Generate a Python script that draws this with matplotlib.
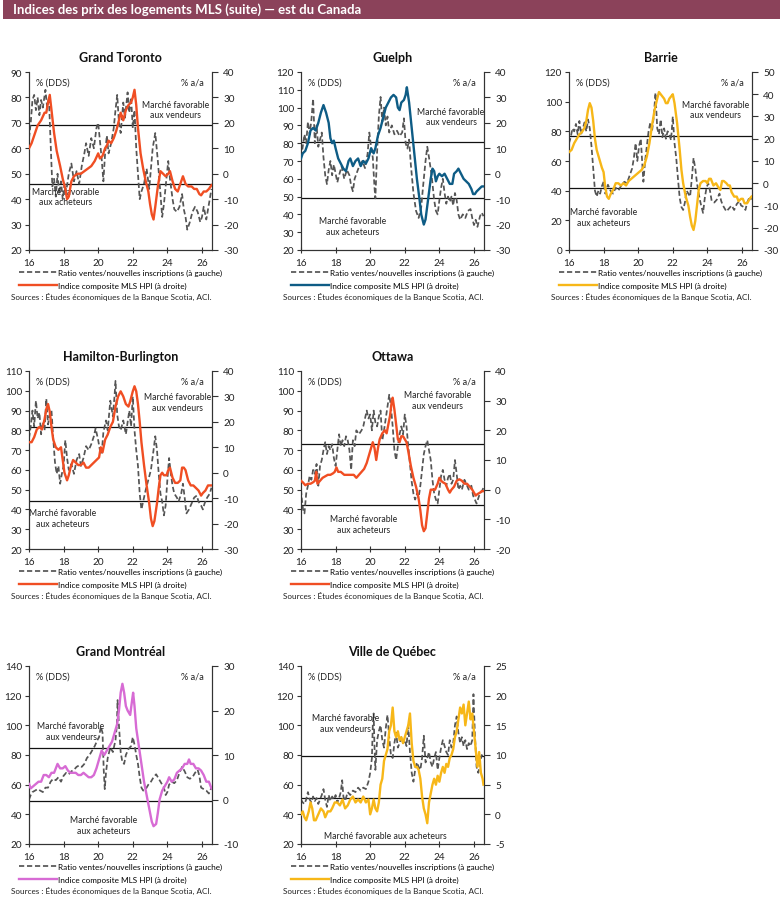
import matplotlib
matplotlib.use("Agg")
import matplotlib.pyplot as plt
import numpy as np
from matplotlib.lines import Line2D

plt.rcParams['font.family'] = ['Lato', 'DejaVu Sans']

# Ratio ventes/nouvelles inscriptions (axe gauche) et MLS HPI a/a (axe droit)
toronto_ratio = [(2016.0, 64), (2016.1, 70), (2016.2, 79), (2016.3, 81), (2016.4, 75), (2016.5, 80), (2016.6, 73),
                 (2016.7, 79), (2016.8, 76), (2016.95, 83), (2017.05, 76), (2017.15, 80), (2017.25, 62), (2017.35, 45),
                 (2017.45, 48), (2017.55, 41), (2017.65, 50), (2017.75, 42), (2017.85, 47), (2017.95, 40), (2018.05, 46),
                 (2018.15, 43), (2018.3, 50), (2018.45, 54), (2018.6, 47), (2018.75, 51), (2018.9, 46), (2019.05, 53),
                 (2019.2, 58), (2019.3, 62), (2019.45, 57), (2019.6, 64), (2019.75, 60), (2019.9, 68), (2020.0, 70),
                 (2020.1, 63), (2020.2, 56), (2020.3, 47), (2020.4, 58), (2020.5, 65), (2020.6, 58), (2020.75, 62),
                 (2020.9, 68), (2021.0, 75), (2021.1, 81), (2021.2, 70), (2021.3, 66), (2021.45, 78), (2021.55, 72),
                 (2021.7, 82), (2021.8, 74), (2021.9, 80), (2022.0, 68), (2022.1, 75), (2022.2, 60), (2022.3, 50),
                 (2022.4, 40), (2022.5, 43), (2022.65, 46), (2022.8, 52), (2022.95, 44), (2023.05, 52), (2023.15, 60),
                 (2023.3, 66), (2023.45, 55), (2023.6, 42), (2023.7, 33), (2023.8, 38), (2023.9, 45), (2024.05, 55),
                 (2024.15, 48), (2024.3, 40), (2024.4, 36), (2024.55, 35), (2024.7, 37), (2024.85, 42), (2024.95, 36),
                 (2025.05, 33), (2025.15, 28), (2025.3, 31), (2025.45, 35), (2025.6, 37), (2025.75, 35), (2025.9, 31),
                 (2026.0, 33), (2026.1, 37), (2026.25, 32), (2026.4, 38), (2026.55, 44)]
toronto_hpi = [(2016.0, 10), (2016.15, 12), (2016.3, 15), (2016.5, 19), (2016.7, 21), (2016.9, 24), (2017.0, 24),
               (2017.1, 28), (2017.2, 31), (2017.3, 25), (2017.45, 16), (2017.6, 9), (2017.8, 3), (2017.95, -2),
               (2018.1, -6), (2018.2, -10), (2018.3, -9), (2018.45, -3), (2018.6, -1), (2018.8, 0), (2019.0, 0),
               (2019.2, 1), (2019.4, 2), (2019.6, 3), (2019.8, 5), (2020.0, 8), (2020.1, 6), (2020.25, 7), (2020.4, 10),
               (2020.5, 11), (2020.6, 13), (2020.75, 12), (2020.9, 14), (2021.05, 17), (2021.2, 21), (2021.3, 24),
               (2021.45, 21), (2021.6, 25), (2021.75, 27), (2021.9, 28), (2022.0, 30), (2022.1, 33), (2022.2, 27),
               (2022.3, 18), (2022.45, 8), (2022.6, 2), (2022.75, -3), (2022.9, -7), (2023.0, -12), (2023.1, -16),
               (2023.2, -18), (2023.3, -13), (2023.45, -5), (2023.6, 1), (2023.75, 0), (2023.9, -1), (2024.05, 0),
               (2024.15, 1), (2024.3, -3), (2024.45, -6), (2024.6, -7), (2024.75, -4), (2024.9, -1), (2025.05, -4),
               (2025.2, -5), (2025.4, -5), (2025.55, -6), (2025.7, -6), (2025.85, -8), (2025.95, -8.5), (2026.1, -7),
               (2026.25, -7), (2026.4, -6), (2026.55, -4.5)]

guelph_ratio = [(2016.0, 72), (2016.1, 78), (2016.2, 85), (2016.3, 80), (2016.4, 92), (2016.5, 85), (2016.6, 93),
                (2016.7, 105), (2016.8, 80), (2016.9, 90), (2017.0, 78), (2017.1, 82), (2017.2, 86), (2017.3, 72),
                (2017.4, 62), (2017.5, 57), (2017.6, 65), (2017.7, 70), (2017.8, 62), (2017.9, 68), (2018.0, 63),
                (2018.1, 58), (2018.2, 62), (2018.35, 67), (2018.5, 60), (2018.65, 65), (2018.8, 62), (2018.9, 56),
                (2019.0, 53), (2019.1, 60), (2019.25, 64), (2019.4, 68), (2019.55, 70), (2019.7, 66), (2019.85, 74),
                (2019.95, 86), (2020.05, 78), (2020.15, 72), (2020.25, 55), (2020.3, 49), (2020.4, 75), (2020.5, 95),
                (2020.6, 106), (2020.7, 92), (2020.8, 100), (2020.9, 90), (2021.0, 95), (2021.1, 86), (2021.25, 90),
                (2021.4, 85), (2021.55, 87), (2021.7, 84), (2021.85, 86), (2021.95, 94), (2022.05, 80), (2022.15, 77),
                (2022.25, 82), (2022.35, 68), (2022.5, 52), (2022.65, 42), (2022.8, 38), (2022.95, 44), (2023.05, 55),
                (2023.2, 70), (2023.3, 78), (2023.4, 72), (2023.55, 62), (2023.7, 48), (2023.8, 42), (2023.9, 40),
                (2024.0, 48), (2024.1, 55), (2024.2, 60), (2024.3, 52), (2024.4, 46), (2024.5, 50), (2024.6, 47),
                (2024.7, 50), (2024.8, 45), (2024.9, 52), (2025.0, 48), (2025.1, 40), (2025.2, 37), (2025.35, 40),
                (2025.5, 38), (2025.65, 42), (2025.8, 43), (2025.9, 38), (2026.0, 34), (2026.1, 37), (2026.2, 33),
                (2026.35, 39), (2026.45, 41), (2026.55, 39)]
guelph_hpi = [(2016.0, 6), (2016.1, 8), (2016.25, 9), (2016.4, 12), (2016.55, 17), (2016.7, 18), (2016.85, 17),
              (2017.0, 20), (2017.15, 24), (2017.3, 27), (2017.45, 24), (2017.6, 20), (2017.7, 14), (2017.8, 12),
              (2017.9, 13), (2018.0, 10), (2018.15, 6), (2018.3, 4), (2018.45, 2), (2018.6, 1), (2018.75, 5),
              (2018.85, 6), (2019.0, 3), (2019.15, 5), (2019.3, 6), (2019.45, 3), (2019.6, 5), (2019.75, 4),
              (2019.9, 6), (2020.05, 10), (2020.2, 8), (2020.3, 10), (2020.45, 15), (2020.6, 18), (2020.75, 22),
              (2020.9, 26), (2021.05, 28), (2021.2, 30), (2021.35, 31), (2021.5, 30), (2021.6, 26), (2021.7, 25),
              (2021.8, 28), (2021.95, 29), (2022.05, 31), (2022.12, 34), (2022.25, 28), (2022.4, 18), (2022.55, 8),
              (2022.7, -2), (2022.85, -10), (2022.95, -16), (2023.1, -20), (2023.2, -18), (2023.35, -10), (2023.5, -2),
              (2023.6, 2), (2023.7, 1), (2023.8, -3), (2023.9, -1), (2024.0, 0), (2024.15, -1), (2024.3, 0),
              (2024.45, -2), (2024.6, -4), (2024.75, -4), (2024.85, 0), (2025.0, 1), (2025.1, 2), (2025.25, 0),
              (2025.4, -2), (2025.55, -3), (2025.7, -4), (2025.85, -6), (2025.95, -8), (2026.05, -8), (2026.15, -7),
              (2026.3, -6), (2026.45, -5), (2026.55, -5)]

barrie_ratio = [(2016.0, 72), (2016.1, 76), (2016.2, 82), (2016.3, 80), (2016.4, 85), (2016.5, 78), (2016.6, 87),
                (2016.7, 78), (2016.8, 82), (2016.9, 86), (2017.0, 80), (2017.1, 88), (2017.2, 82), (2017.3, 70),
                (2017.4, 55), (2017.5, 40), (2017.6, 36), (2017.7, 40), (2017.8, 38), (2017.9, 43), (2018.0, 46),
                (2018.1, 38), (2018.25, 44), (2018.4, 40), (2018.55, 38), (2018.7, 42), (2018.85, 40), (2019.0, 43),
                (2019.2, 46), (2019.35, 45), (2019.5, 50), (2019.65, 55), (2019.75, 62), (2019.85, 72), (2019.95, 60),
                (2020.05, 70), (2020.15, 75), (2020.3, 46), (2020.4, 60), (2020.5, 70), (2020.6, 80), (2020.7, 86),
                (2020.8, 80), (2020.9, 90), (2021.0, 106), (2021.1, 82), (2021.2, 78), (2021.3, 88), (2021.4, 76),
                (2021.5, 82), (2021.6, 75), (2021.7, 80), (2021.8, 78), (2021.9, 74), (2022.0, 90), (2022.1, 72),
                (2022.2, 62), (2022.3, 48), (2022.4, 35), (2022.5, 29), (2022.6, 27), (2022.7, 32), (2022.8, 40),
                (2022.9, 38), (2023.0, 36), (2023.1, 48), (2023.2, 62), (2023.3, 55), (2023.4, 45), (2023.5, 38),
                (2023.6, 32), (2023.75, 25), (2023.85, 35), (2023.95, 42), (2024.05, 45), (2024.15, 40), (2024.25, 33),
                (2024.4, 32), (2024.55, 34), (2024.7, 38), (2024.8, 33), (2024.9, 30), (2025.0, 28), (2025.1, 26),
                (2025.25, 28), (2025.4, 30), (2025.55, 27), (2025.7, 31), (2025.85, 33), (2025.95, 30), (2026.1, 29),
                (2026.2, 27), (2026.3, 32), (2026.45, 36), (2026.55, 34)]
barrie_hpi = [(2016.0, 14), (2016.15, 15), (2016.3, 18), (2016.45, 20), (2016.6, 22), (2016.75, 23), (2016.9, 25),
              (2017.0, 28), (2017.1, 33), (2017.2, 36), (2017.3, 34), (2017.4, 28), (2017.5, 20), (2017.6, 15),
              (2017.75, 11), (2017.9, 7), (2018.0, 5), (2018.1, -2), (2018.2, -6), (2018.3, -7), (2018.4, -5),
              (2018.55, -3), (2018.7, 0), (2018.85, 0), (2019.0, -1), (2019.15, 0), (2019.3, -1), (2019.45, 1),
              (2019.6, 2), (2019.75, 3), (2019.9, 4), (2020.05, 5), (2020.2, 6), (2020.35, 8), (2020.5, 12),
              (2020.65, 18), (2020.8, 26), (2020.95, 33), (2021.1, 38), (2021.2, 41), (2021.3, 40), (2021.4, 39),
              (2021.5, 38), (2021.6, 36), (2021.7, 36), (2021.8, 38), (2021.9, 39), (2022.0, 40), (2022.1, 36),
              (2022.25, 27), (2022.4, 15), (2022.5, 6), (2022.6, 0), (2022.75, -6), (2022.9, -10), (2023.0, -15),
              (2023.1, -19), (2023.2, -21), (2023.3, -17), (2023.4, -10), (2023.5, -3), (2023.6, 0), (2023.75, 1),
              (2023.9, 1), (2024.0, 0), (2024.1, 2), (2024.2, 2), (2024.35, -1), (2024.5, 0), (2024.65, -2),
              (2024.75, -3), (2024.85, 1), (2024.95, 1), (2025.1, 0), (2025.2, -1), (2025.3, -1), (2025.4, -4),
              (2025.55, -6), (2025.7, -6), (2025.8, -8), (2025.95, -7), (2026.05, -7), (2026.15, -9), (2026.3, -9),
              (2026.45, -7), (2026.55, -6)]

hamilton_ratio = [(2016.0, 76), (2016.1, 82), (2016.2, 90), (2016.3, 82), (2016.4, 95), (2016.5, 86), (2016.6, 89),
                  (2016.7, 78), (2016.8, 84), (2016.9, 80), (2017.0, 96), (2017.1, 83), (2017.2, 88), (2017.3, 90),
                  (2017.4, 76), (2017.5, 64), (2017.6, 58), (2017.7, 62), (2017.8, 53), (2017.9, 58), (2018.0, 62),
                  (2018.1, 75), (2018.2, 66), (2018.3, 60), (2018.45, 63), (2018.6, 58), (2018.75, 65), (2018.9, 68),
                  (2019.0, 62), (2019.15, 66), (2019.3, 72), (2019.45, 70), (2019.6, 73), (2019.75, 77), (2019.85, 81),
                  (2020.0, 75), (2020.1, 70), (2020.2, 68), (2020.3, 79), (2020.45, 85), (2020.55, 80), (2020.7, 95),
                  (2020.85, 87), (2020.95, 98), (2021.0, 105), (2021.1, 88), (2021.2, 82), (2021.3, 80), (2021.45, 85),
                  (2021.6, 78), (2021.7, 84), (2021.8, 90), (2021.9, 82), (2022.0, 97), (2022.1, 80), (2022.2, 70),
                  (2022.3, 62), (2022.4, 48), (2022.5, 40), (2022.6, 44), (2022.75, 50), (2022.9, 55), (2023.05, 60),
                  (2023.2, 70), (2023.3, 77), (2023.4, 70), (2023.5, 58), (2023.6, 48), (2023.7, 44), (2023.8, 37),
                  (2023.9, 42), (2024.0, 55), (2024.1, 66), (2024.2, 58), (2024.3, 52), (2024.4, 48), (2024.55, 46),
                  (2024.65, 44), (2024.8, 48), (2024.9, 53), (2025.0, 46), (2025.1, 38), (2025.25, 40), (2025.4, 43),
                  (2025.55, 46), (2025.7, 47), (2025.8, 44), (2025.95, 42), (2026.05, 40), (2026.15, 43), (2026.3, 46),
                  (2026.45, 48), (2026.55, 51)]
hamilton_hpi = [(2016.0, 12), (2016.15, 12), (2016.3, 14), (2016.45, 17), (2016.6, 18), (2016.75, 17), (2016.9, 21),
                (2017.0, 25), (2017.1, 27), (2017.2, 24), (2017.3, 18), (2017.4, 13), (2017.55, 10), (2017.7, 9),
                (2017.85, 10), (2017.95, 5), (2018.05, 0), (2018.2, -3), (2018.3, -1), (2018.4, 2), (2018.55, 5),
                (2018.7, 4), (2018.85, 3), (2019.0, 3), (2019.15, 4), (2019.3, 2), (2019.45, 2), (2019.6, 3),
                (2019.75, 4), (2019.9, 5), (2020.05, 6), (2020.15, 10), (2020.25, 8), (2020.4, 13), (2020.55, 15),
                (2020.7, 18), (2020.85, 20), (2021.0, 26), (2021.15, 30), (2021.3, 32), (2021.45, 30), (2021.6, 27),
                (2021.75, 26), (2021.85, 28), (2022.0, 32), (2022.1, 34), (2022.2, 32), (2022.3, 27), (2022.4, 20),
                (2022.5, 12), (2022.65, 3), (2022.8, -5), (2022.95, -12), (2023.05, -18), (2023.15, -21), (2023.25, -19),
                (2023.4, -12), (2023.5, -6), (2023.6, -1), (2023.7, 0), (2023.8, -1), (2023.95, -1), (2024.05, 1),
                (2024.15, 2), (2024.3, -2), (2024.45, -4), (2024.6, -4), (2024.75, -3), (2024.85, 2), (2024.95, 2),
                (2025.05, 1), (2025.2, -3), (2025.35, -5), (2025.5, -5), (2025.65, -6), (2025.8, -7), (2025.95, -9),
                (2026.05, -8), (2026.2, -7), (2026.35, -5), (2026.55, -5)]

ottawa_ratio = [(2016.0, 50), (2016.05, 45), (2016.12, 40), (2016.2, 38), (2016.3, 48), (2016.4, 52), (2016.5, 57),
                (2016.6, 55), (2016.7, 60), (2016.8, 58), (2016.9, 63), (2017.0, 52), (2017.1, 62), (2017.2, 65),
                (2017.3, 70), (2017.4, 74), (2017.5, 68), (2017.6, 72), (2017.7, 70), (2017.8, 73), (2017.9, 66),
                (2018.0, 62), (2018.1, 70), (2018.2, 78), (2018.3, 72), (2018.4, 75), (2018.5, 72), (2018.6, 77),
                (2018.7, 75), (2018.8, 70), (2018.9, 60), (2019.0, 75), (2019.1, 72), (2019.2, 80), (2019.35, 78),
                (2019.5, 80), (2019.6, 82), (2019.7, 86), (2019.8, 90), (2019.9, 86), (2020.0, 88), (2020.1, 80),
                (2020.2, 90), (2020.3, 84), (2020.4, 82), (2020.5, 87), (2020.6, 90), (2020.7, 75), (2020.8, 80),
                (2020.9, 86), (2021.0, 92), (2021.1, 98), (2021.2, 92), (2021.3, 82), (2021.4, 70), (2021.5, 65),
                (2021.6, 72), (2021.7, 78), (2021.8, 82), (2021.9, 78), (2022.0, 88), (2022.1, 82), (2022.2, 72),
                (2022.3, 63), (2022.4, 54), (2022.5, 48), (2022.6, 45), (2022.7, 48), (2022.8, 46), (2022.9, 52),
                (2023.0, 60), (2023.1, 68), (2023.2, 72), (2023.3, 75), (2023.4, 70), (2023.5, 65), (2023.6, 55),
                (2023.7, 48), (2023.8, 45), (2023.9, 43), (2024.0, 50), (2024.1, 57), (2024.2, 60), (2024.3, 55),
                (2024.4, 52), (2024.5, 56), (2024.6, 58), (2024.7, 53), (2024.8, 55), (2024.9, 65), (2025.0, 58),
                (2025.1, 50), (2025.2, 52), (2025.3, 50), (2025.45, 55), (2025.6, 52), (2025.7, 50), (2025.85, 52),
                (2025.95, 47), (2026.05, 45), (2026.15, 43), (2026.3, 47), (2026.45, 49), (2026.55, 51)]
ottawa_hpi = [(2016.0, 3), (2016.1, 2.5), (2016.25, 1.5), (2016.4, 2), (2016.55, 2), (2016.7, 2.5), (2016.8, 3),
              (2016.88, 6), (2016.95, 2), (2017.1, 3), (2017.25, 4), (2017.4, 4.5), (2017.55, 5), (2017.7, 5),
              (2017.85, 5.5), (2017.95, 6), (2018.05, 7.5), (2018.15, 6), (2018.3, 6), (2018.5, 5), (2018.7, 5),
              (2018.9, 5), (2019.05, 5), (2019.2, 4), (2019.35, 5), (2019.5, 6), (2019.65, 7), (2019.8, 9),
              (2019.95, 12), (2020.05, 14), (2020.15, 16), (2020.25, 14), (2020.35, 10), (2020.45, 14), (2020.55, 17),
              (2020.7, 19), (2020.85, 20), (2020.95, 19), (2021.05, 22), (2021.15, 25), (2021.25, 30), (2021.3, 31),
              (2021.4, 27), (2021.5, 22), (2021.6, 17), (2021.7, 16), (2021.8, 18), (2021.9, 18), (2022.0, 17),
              (2022.1, 16), (2022.2, 13), (2022.35, 8), (2022.5, 4), (2022.65, 1), (2022.8, -3), (2022.9, -7),
              (2023.0, -12), (2023.1, -14), (2023.2, -13), (2023.3, -8), (2023.4, -3), (2023.5, 0), (2023.6, 0),
              (2023.75, 0), (2023.9, 2), (2024.0, 4), (2024.1, 3), (2024.2, 2.5), (2024.35, 2), (2024.5, 0),
              (2024.6, -1), (2024.7, 0), (2024.85, 1), (2025.0, 3), (2025.15, 3.5), (2025.3, 3), (2025.45, 2),
              (2025.6, 2), (2025.75, 1), (2025.9, 0), (2026.0, -1), (2026.1, -2), (2026.2, -1.5), (2026.35, -1),
              (2026.45, -0.5), (2026.55, -0.5)]

montreal_ratio = [(2016.0, 50), (2016.1, 53), (2016.2, 55), (2016.35, 56), (2016.5, 57), (2016.65, 56), (2016.8, 55),
                  (2016.95, 58), (2017.1, 58), (2017.25, 62), (2017.4, 64), (2017.55, 63), (2017.7, 65), (2017.85, 62),
                  (2018.0, 66), (2018.15, 68), (2018.3, 67), (2018.45, 69), (2018.6, 70), (2018.75, 72), (2018.9, 73),
                  (2019.05, 72), (2019.2, 74), (2019.35, 78), (2019.5, 80), (2019.65, 83), (2019.8, 86), (2019.95, 90),
                  (2020.05, 92), (2020.15, 99), (2020.25, 95), (2020.32, 70), (2020.38, 57), (2020.45, 68), (2020.55, 78),
                  (2020.7, 85), (2020.85, 82), (2021.0, 90), (2021.08, 100), (2021.12, 117), (2021.2, 100), (2021.3, 82),
                  (2021.4, 75), (2021.5, 74), (2021.6, 80), (2021.75, 84), (2021.9, 86), (2022.0, 92), (2022.1, 87),
                  (2022.2, 80), (2022.3, 74), (2022.4, 65), (2022.5, 58), (2022.6, 56), (2022.75, 57), (2022.9, 60),
                  (2023.05, 62), (2023.2, 65), (2023.35, 67), (2023.5, 64), (2023.65, 61), (2023.8, 58), (2023.9, 53),
                  (2024.0, 55), (2024.1, 60), (2024.25, 62), (2024.4, 61), (2024.55, 63), (2024.7, 68), (2024.85, 72),
                  (2025.0, 69), (2025.15, 65), (2025.3, 64), (2025.45, 65), (2025.6, 68), (2025.75, 70), (2025.85, 66),
                  (2025.95, 58), (2026.1, 57), (2026.25, 56), (2026.4, 54), (2026.55, 58)]
montreal_hpi = [(2016.0, 3.5), (2016.1, 2.5), (2016.25, 3), (2016.4, 3.5), (2016.55, 4), (2016.7, 4), (2016.85, 5.5),
                (2017.0, 5.5), (2017.15, 5), (2017.3, 6), (2017.45, 6), (2017.55, 7), (2017.65, 8), (2017.8, 7),
                (2017.95, 7), (2018.1, 7.5), (2018.25, 6.5), (2018.4, 6), (2018.55, 6), (2018.7, 6), (2018.85, 5.5),
                (2019.0, 5.5), (2019.15, 6), (2019.3, 5.5), (2019.45, 5), (2019.6, 5), (2019.75, 5.5), (2019.9, 7),
                (2020.05, 9), (2020.2, 11), (2020.35, 10), (2020.5, 11), (2020.65, 12), (2020.8, 13), (2020.95, 15),
                (2021.1, 17), (2021.2, 20), (2021.3, 24), (2021.4, 26), (2021.5, 24), (2021.6, 21), (2021.7, 20),
                (2021.85, 19), (2021.95, 22), (2022.02, 24), (2022.1, 21), (2022.2, 16), (2022.35, 12), (2022.5, 8),
                (2022.65, 4), (2022.8, 1), (2022.95, -2), (2023.1, -5), (2023.2, -6), (2023.35, -5.5), (2023.45, -3),
                (2023.55, 0), (2023.7, 2), (2023.85, 3), (2024.0, 4), (2024.1, 5), (2024.25, 4), (2024.4, 4.5),
                (2024.55, 6), (2024.7, 6.5), (2024.85, 7), (2025.0, 8), (2025.15, 8), (2025.25, 9), (2025.35, 8),
                (2025.5, 8), (2025.65, 7), (2025.8, 7), (2025.95, 6.5), (2026.1, 5.5), (2026.25, 4), (2026.4, 4),
                (2026.55, 2.5)]

quebec_ratio = [(2016.0, 50), (2016.1, 48), (2016.2, 47), (2016.3, 50), (2016.4, 55), (2016.5, 50), (2016.6, 48),
                (2016.7, 52), (2016.8, 49), (2016.9, 51), (2017.0, 47), (2017.1, 50), (2017.2, 53), (2017.3, 57),
                (2017.4, 50), (2017.5, 45), (2017.6, 53), (2017.7, 49), (2017.8, 52), (2017.9, 50), (2018.0, 53),
                (2018.1, 48), (2018.2, 51), (2018.3, 55), (2018.38, 63), (2018.45, 52), (2018.55, 49), (2018.7, 55),
                (2018.85, 53), (2019.0, 56), (2019.15, 55), (2019.3, 58), (2019.45, 56), (2019.6, 58), (2019.75, 57),
                (2019.9, 62), (2020.0, 68), (2020.1, 78), (2020.15, 100), (2020.2, 108), (2020.25, 85), (2020.3, 70),
                (2020.4, 90), (2020.5, 96), (2020.6, 100), (2020.7, 90), (2020.8, 85), (2020.9, 98), (2021.0, 107),
                (2021.1, 92), (2021.2, 80), (2021.3, 78), (2021.4, 88), (2021.5, 95), (2021.6, 85), (2021.7, 88),
                (2021.8, 92), (2021.9, 88), (2022.0, 90), (2022.1, 86), (2022.2, 100), (2022.3, 82), (2022.4, 68),
                (2022.5, 62), (2022.6, 70), (2022.7, 75), (2022.8, 72), (2022.9, 70), (2023.0, 78), (2023.1, 93),
                (2023.2, 75), (2023.3, 78), (2023.4, 82), (2023.5, 75), (2023.6, 72), (2023.7, 78), (2023.8, 82),
                (2023.9, 70), (2024.0, 78), (2024.1, 85), (2024.2, 90), (2024.3, 86), (2024.4, 82), (2024.5, 80),
                (2024.6, 90), (2024.7, 85), (2024.8, 88), (2024.9, 100), (2025.0, 106), (2025.1, 95), (2025.2, 88),
                (2025.3, 92), (2025.4, 86), (2025.5, 90), (2025.6, 84), (2025.7, 88), (2025.8, 86), (2025.9, 90),
                (2025.97, 121), (2026.05, 95), (2026.15, 72), (2026.25, 68), (2026.35, 75), (2026.45, 80), (2026.55, 78)]
quebec_hpi = [(2016.0, 0), (2016.1, 0.5), (2016.2, -0.5), (2016.3, -1), (2016.45, 0.5), (2016.55, 2), (2016.65, 1),
              (2016.75, -1), (2016.85, -1), (2017.0, 0), (2017.15, 1), (2017.3, 0.5), (2017.4, -0.5), (2017.55, 0.5),
              (2017.7, 0.5), (2017.8, 1), (2017.95, 2), (2018.1, 2), (2018.25, 1.5), (2018.4, 2.5), (2018.55, 1),
              (2018.7, 1.5), (2018.85, 2.5), (2019.0, 3), (2019.15, 2), (2019.3, 2.5), (2019.45, 2), (2019.6, 3),
              (2019.75, 2), (2019.9, 2.5), (2020.0, 0), (2020.1, 1), (2020.2, 2.5), (2020.3, 1), (2020.4, 0.5),
              (2020.5, 2), (2020.6, 5), (2020.7, 6), (2020.8, 9), (2020.9, 10), (2021.0, 11), (2021.1, 14),
              (2021.2, 15), (2021.3, 18), (2021.4, 14), (2021.5, 13), (2021.6, 14), (2021.7, 12.5), (2021.8, 13),
              (2021.9, 12), (2022.0, 13), (2022.1, 14), (2022.2, 15), (2022.3, 17), (2022.4, 12), (2022.5, 9),
              (2022.6, 8), (2022.7, 8), (2022.8, 7.5), (2022.9, 6), (2023.0, 3), (2023.1, 1), (2023.2, 0),
              (2023.3, -1.5), (2023.4, 2), (2023.5, 3.5), (2023.6, 5), (2023.7, 6), (2023.8, 5), (2023.9, 6.5),
              (2024.0, 5.5), (2024.1, 7), (2024.2, 8), (2024.3, 7), (2024.4, 8.5), (2024.5, 8), (2024.6, 9.5),
              (2024.7, 10), (2024.8, 11), (2024.9, 13), (2025.0, 14), (2025.1, 16), (2025.2, 18), (2025.3, 17),
              (2025.4, 18.5), (2025.5, 15), (2025.6, 17), (2025.7, 19), (2025.8, 16), (2025.9, 17), (2026.0, 14),
              (2026.1, 11), (2026.2, 8), (2026.3, 10.5), (2026.4, 7), (2026.5, 6), (2026.55, 5)]

# seuils marché vendeurs / acheteurs (axe gauche)
seuils = {'toronto': (69, 46), 'guelph': (80.5, 49), 'barrie': (76.8, 41.8), 'hamilton': (81.5, 44.4),
          'ottawa': (72.9, 42.2), 'montreal': (84.9, 49), 'quebec': (79.5, 50.7)}

year_ticks = [2016, 2018, 2020, 2022, 2024, 2026]

ROUGE = '#F04E23'
BLEU = '#0E5C85'
OR = '#F7B718'
ROSE = '#D76BD4'
GRIS = '#555555'
TXT = '#222222'

W, H = 183 / 780, 178 / 904
lefts = [29 / 780, 301 / 780, 569 / 780]
bottoms = [1 - 251 / 904, 1 - 550 / 904, 1 - 845 / 904]

fig = plt.figure(figsize=(7.8, 9.04), dpi=100)

# bandeau titre
fig.add_artist(plt.Rectangle((3 / 780, 1 - 20 / 904), 777 / 780, 20 / 904, transform=fig.transFigure,
                             facecolor='#8B425A', edgecolor='none'))
fig.text(13 / 780, 1 - 10 / 904, 'Indices des prix des logements MLS (suite) — est du Canada',
         color='white', fontsize=9.5, fontweight='bold', va='center', ha='left')


def panel(col, row, title, ratio, hpi, color, lylim, lstep, rylim, rstep, seuil,
          vend_xy, ach_xy, ach_text):
    ax = fig.add_axes([lefts[col], bottoms[row], W, H])
    ax2 = ax.twinx()
    rx, ry = np.array(ratio).T
    hx, hy = np.array(hpi).T

    ax.axhline(seuil[0], color='#111111', lw=0.9, zorder=1)
    ax.axhline(seuil[1], color='#111111', lw=0.9, zorder=1)
    ax.plot(rx, ry, color=GRIS, lw=1.25, linestyle=(0, (3, 1.6)), zorder=2)
    ax2.plot(hx, hy, color=color, lw=1.7, zorder=3)

    ax.set_xlim(2016, 2026.58)
    ax.set_ylim(*lylim)
    ax.set_yticks(np.arange(lylim[0], lylim[1] + 0.1, lstep))
    ax2.set_ylim(*rylim)
    ax2.set_yticks(np.arange(rylim[0], rylim[1] + 0.1, rstep))
    ax2.set_yticklabels([f'{v:g}' for v in np.arange(rylim[0], rylim[1] + 0.1, rstep)])
    ax.set_xticks(year_ticks)
    ax.set_xticklabels([str(y % 100) for y in year_ticks])

    for a in (ax, ax2):
        a.spines['top'].set_visible(False)
        for s in ('left', 'right', 'bottom'):
            a.spines[s].set_linewidth(0.8)
            a.spines[s].set_color('#333333')
        a.tick_params(colors='#333333', labelcolor=TXT, labelsize=7.2, width=0.8)
    ax.tick_params(axis='y', direction='out', length=3, pad=2)
    ax.tick_params(axis='x', direction='inout', length=4, pad=4)
    ax2.tick_params(axis='y', direction='out', length=4, pad=4)

    ax.set_title(title, fontsize=9, fontweight='bold', pad=8, color='#111111')

    ax.text(0.04, 0.945, '% (DDS)', transform=ax.transAxes, fontsize=6.6, color=TXT, va='center', ha='left')
    ax.text(0.956, 0.945, '% a/a', transform=ax.transAxes, fontsize=6.6, color=TXT, va='center', ha='right')
    ax.text(vend_xy[0], vend_xy[1], 'Marché favorable\naux vendeurs', transform=ax.transAxes,
            fontsize=6.2, color=TXT, ha='center', va='center', linespacing=1.2, zorder=5)
    ax.text(ach_xy[0], ach_xy[1], ach_text, transform=ax.transAxes,
            fontsize=6.2, color=TXT, ha='center', va='center', linespacing=1.2, zorder=5)

    handles = [Line2D([], [], color=GRIS, lw=1.25, linestyle=(0, (3, 1.6))),
               Line2D([], [], color=color, lw=1.7)]
    ax.legend(handles, ['Ratio ventes/nouvelles inscriptions (à gauche)', 'Indice composite MLS HPI (à droite)'],
              loc='upper left', bbox_to_anchor=(-0.055, -0.105), frameon=False, fontsize=5.9,
              handlelength=4.6, handletextpad=0.15, labelspacing=0.75, borderpad=0, borderaxespad=0)
    ax.text(-0.098, -0.258, 'Sources : Études économiques de la Banque Scotia, ACI.', transform=ax.transAxes,
            fontsize=5.9, color=TXT, ha='left', va='center')
    return ax


panel(0, 0, 'Grand Toronto', toronto_ratio, toronto_hpi, ROUGE, (20, 90), 10, (-30, 40), 10,
      seuils['toronto'], (0.80, 0.79), (0.20, 0.30), 'Marché favorable\naux acheteurs')
panel(1, 0, 'Guelph', guelph_ratio, guelph_hpi, BLEU, (20, 120), 10, (-30, 40), 10,
      seuils['guelph'], (0.82, 0.75), (0.28, 0.135), 'Marché favorable\naux acheteurs')
panel(2, 0, 'Barrie', barrie_ratio, barrie_hpi, OR, (0, 120), 20, (-30, 50), 10,
      seuils['barrie'], (0.80, 0.79), (0.19, 0.185), 'Marché favorable\naux acheteurs')
panel(0, 1, 'Hamilton-Burlington', hamilton_ratio, hamilton_hpi, ROUGE, (20, 110), 10, (-30, 40), 10,
      seuils['hamilton'], (0.81, 0.825), (0.185, 0.174), 'Marché favorable\naux acheteurs')
panel(1, 1, 'Ottawa', ottawa_ratio, ottawa_hpi, ROUGE, (20, 110), 10, (-20, 40), 10,
      seuils['ottawa'], (0.745, 0.837), (0.34, 0.14), 'Marché favorable\naux acheteurs')
panel(0, 2, 'Grand Montréal', montreal_ratio, montreal_hpi, ROSE, (20, 140), 20, (-10, 30), 10,
      seuils['montreal'], (0.23, 0.635), (0.41, 0.107), 'Marché favorable\naux acheteurs')
panel(1, 2, 'Ville de Québec', quebec_ratio, quebec_hpi, OR, (20, 140), 20, (-5, 25), 5,
      seuils['quebec'], (0.245, 0.68), (0.46, 0.05), 'Marché favorable aux acheteurs')

fig.savefig('out.png', dpi=100)
